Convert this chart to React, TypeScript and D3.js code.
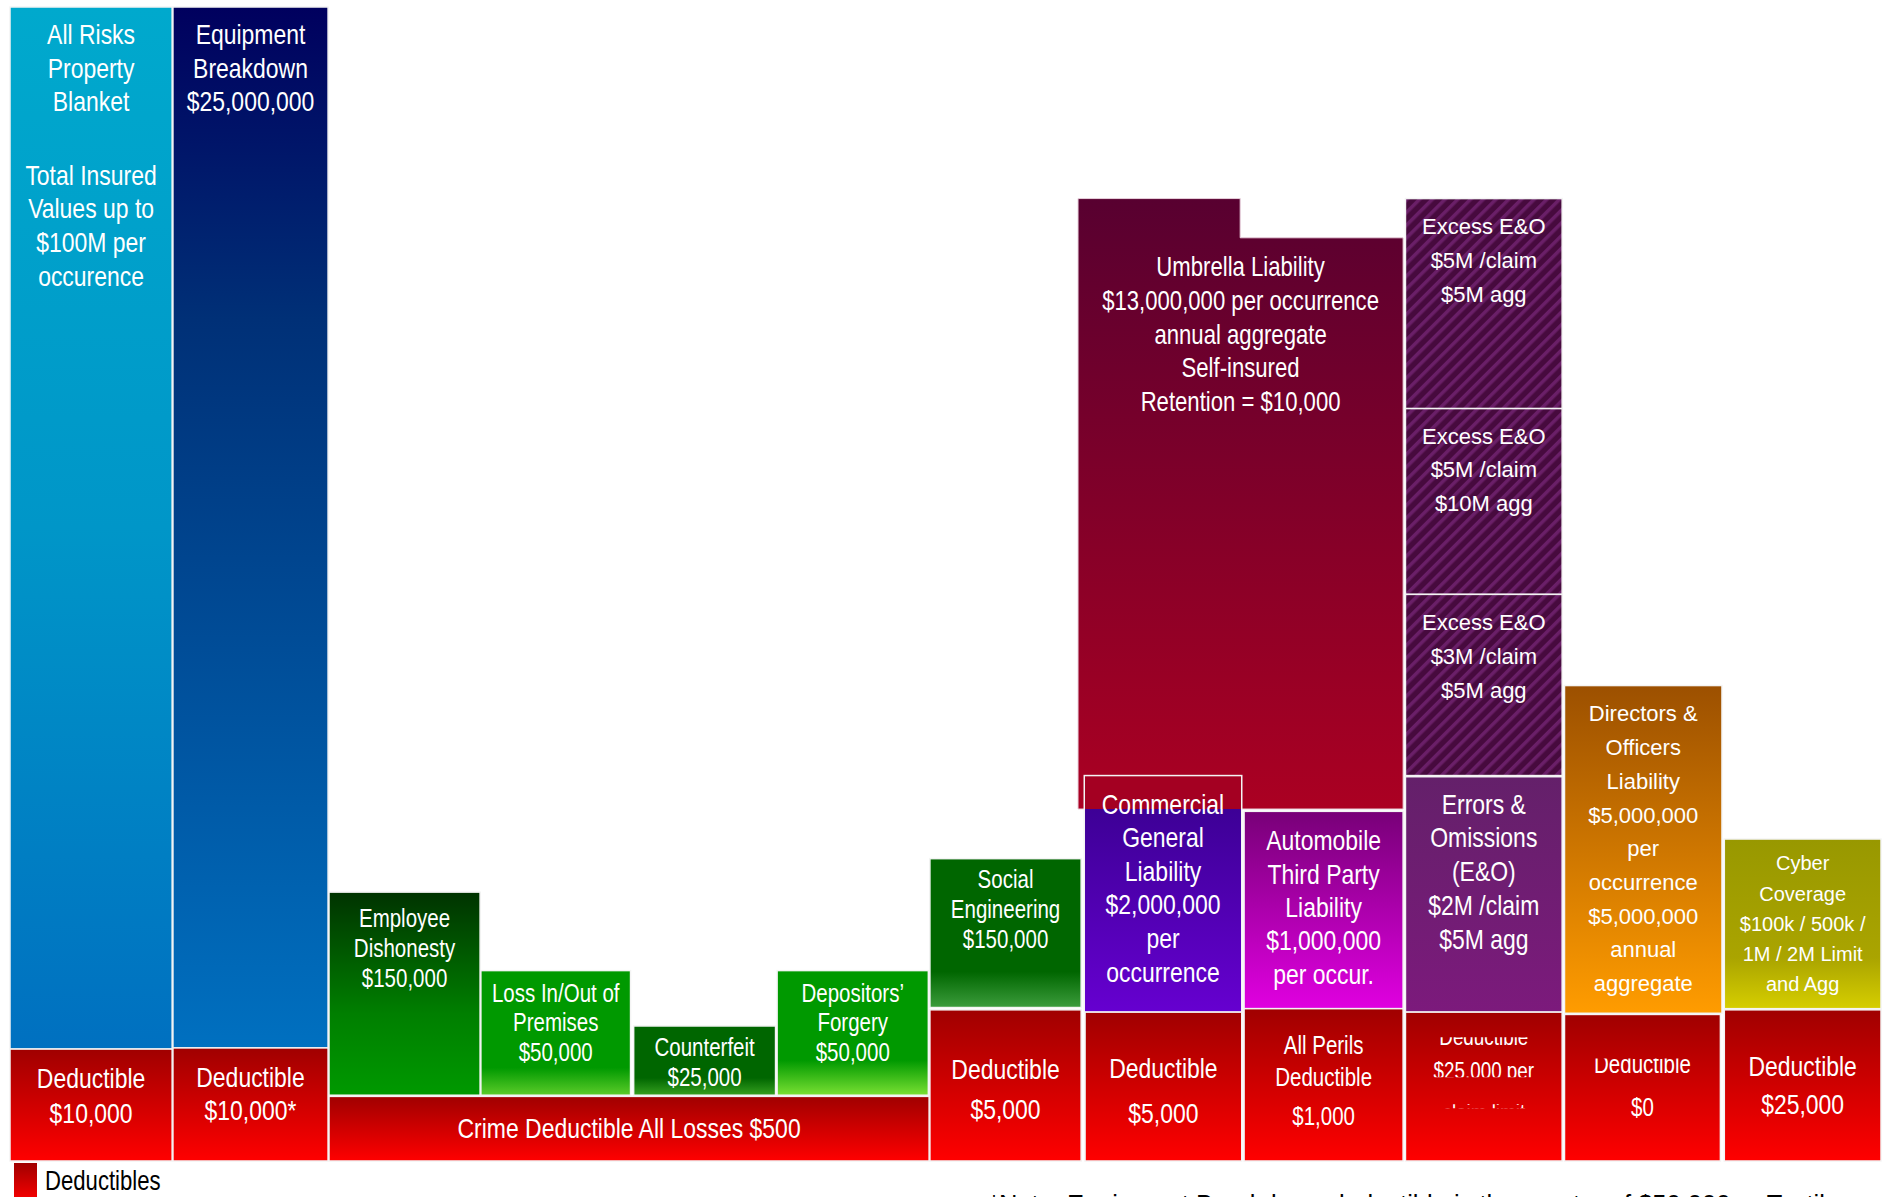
import React from "react";
import * as d3 from "d3";

const W = 1887;
const H = 1197;

// ---------- DATA ----------
// Tower columns (horizontal, 0..12) and tower levels (vertical, 0 = base .. 100 = top)
const coverageIds = [
  "allRisks", "equipment", "employeeDishonesty", "lossInOut", "counterfeit", "forgery",
  "socialEngineering", "cgl", "auto", "xeo1", "xeo2", "xeo3", "eo", "dno", "cyber",
];
const coverageLabels: string[][] = [
  ["All Risks", "Property", "Blanket", "Total Insured", "Values up to", "$100M per", "occurence"],
  ["Equipment", "Breakdown", "$25,000,000"],
  ["Employee", "Dishonesty", "$150,000"],
  ["Loss In/Out of", "Premises", "$50,000"],
  ["Counterfeit", "$25,000"],
  ["Depositors’", "Forgery", "$50,000"],
  ["Social", "Engineering", "$150,000"],
  ["Commercial", "General", "Liability", "$2,000,000", "per", "occurrence"],
  ["Automobile", "Third Party", "Liability", "$1,000,000", "per occur."],
  ["Excess E&O", "$5M /claim", "$5M agg"],
  ["Excess E&O", "$5M /claim", "$10M agg"],
  ["Excess E&O", "$3M /claim", "$5M agg"],
  ["Errors &", "Omissions", "(E&O)", "$2M /claim", "$5M agg"],
  ["Directors &", "Officers", "Liability", "$5,000,000", "per", "occurrence", "$5,000,000", "annual", "aggregate"],
  ["Cyber", "Coverage", "$100k / 500k /", "1M / 2M Limit", "and Agg"],
];
const coverageCol0 = [0, 1.045, 2.046, 3.02, 4.0, 4.92, 5.9, 6.89, 7.915, 8.95, 8.95, 8.95, 8.95, 9.97, 10.995];
const coverageCol1 = [1.04, 2.04, 3.015, 3.98, 4.91, 5.89, 6.87, 7.9, 8.935, 9.955, 9.955, 9.955, 9.955, 10.98, 12.0];
const coverageLow = [9.7, 9.8, 5.7, 5.7, 5.7, 5.7, 13.3, 12.9, 13.2, 65.2, 49.1, 33.4, 12.9, 12.8, 13.2];
const coverageHigh = [100, 100, 23.3, 16.5, 11.7, 16.5, 26.2, 33.4, 30.3, 83.4, 65.2, 49.1, 33.3, 41.2, 27.9];

const umbrellaLabel = ["Umbrella Liability", "$13,000,000 per occurrence", "annual aggregate", "Self-insured", "Retention = $10,000"];
const umbrellaCols = [6.85, 7.89, 8.935];
const umbrellaTops = [83.4, 80.0];
const umbrellaLow = 30.5;

const deductibleIds = ["allRisks", "equipment", "crime", "socialEngineering", "cgl", "auto", "eo", "dno", "cyber"];
const deductibleLabels: string[][] = [
  ["Deductible", "$10,000"],
  ["Deductible", "$10,000*"],
  ["Crime Deductible All Losses $500"],
  ["Deductible", "$5,000"],
  ["Deductible", "$5,000"],
  ["All Perils", "Deductible", "$1,000"],
  ["Deductible", "$25,000 per", "claim limit"],
  ["Deductible", "$0"],
  ["Deductible", "$25,000"],
];
const deductibleCol0 = [0, 1.045, 2.046, 5.9, 6.895, 7.915, 8.95, 9.97, 10.995];
const deductibleCol1 = [1.04, 2.04, 5.895, 6.87, 7.9, 8.935, 9.955, 10.97, 12.0];
const deductibleHigh = [9.7, 9.8, 5.6, 13.1, 12.9, 13.2, 12.9, 12.7, 13.1];

const legendLabel = "Deductibles";
const footnote = "*Note: Equipment Breakdown deductible is the greater of $50,000 or Textile";

// ---------- STYLES ----------
type Stops = [number, string][];
const fills: Record<string, Stops> = {
  allRisks: [[0, "#00a9cd"], [0.5, "#0096c8"], [1, "#0070c0"]],
  equipment: [[0, "#00005e"], [0.3, "#003077"], [1, "#0070c0"]],
  employeeDishonesty: [[0, "#003300"], [0.6, "#007f00"], [1, "#009900"]],
  lossInOut: [[0, "#009900"], [0.78, "#009900"], [1, "#5ccc2a"]],
  counterfeit: [[0, "#006600"], [0.75, "#006600"], [1, "#36a020"]],
  forgery: [[0, "#009900"], [0.72, "#009900"], [1, "#7ae033"]],
  socialEngineering: [[0, "#006600"], [0.76, "#006600"], [1, "#3c9c3c"]],
  cgl: [[0, "#a40022"], [0.142, "#a40022"], [0.142, "#3d0096"], [1, "#6600d0"]],
  auto: [[0, "#780078"], [1, "#e000e0"]],
  eo: [[0, "#64206a"], [1, "#7c1a7c"]],
  dno: [[0, "#9c5000"], [1, "#ff9c00"]],
  cyber: [[0, "#989800"], [0.7, "#aaa400"], [1, "#d6ce00"]],
  umbrella: [[0, "#580030"], [1, "#ab0022"]],
  deductible: [[0, "#a00000"], [1, "#ff0000"]],
};

type LabelStyle = { size: number; narrow: boolean; lh: number; dy: number; ys?: number[] };
const coverageText: Record<string, LabelStyle> = {
  allRisks: { size: 28, narrow: true, lh: 33.7, dy: 27, ys: [27, 60.7, 94.4, 167.5, 201.2, 234.9, 268.6] },
  equipment: { size: 28, narrow: true, lh: 33.7, dy: 27 },
  employeeDishonesty: { size: 25, narrow: true, lh: 30, dy: 26 },
  lossInOut: { size: 25, narrow: true, lh: 29.5, dy: 22 },
  counterfeit: { size: 25, narrow: true, lh: 30, dy: 21 },
  forgery: { size: 25, narrow: true, lh: 29.5, dy: 22 },
  socialEngineering: { size: 25, narrow: true, lh: 30, dy: 20 },
  cgl: { size: 28, narrow: true, lh: 33.6, dy: 28 },
  auto: { size: 28, narrow: true, lh: 33.3, dy: 29 },
  xeo1: { size: 22, narrow: false, lh: 33.7, dy: 28 },
  xeo2: { size: 22, narrow: false, lh: 33.7, dy: 27 },
  xeo3: { size: 22, narrow: false, lh: 33.7, dy: 28 },
  eo: { size: 28, narrow: true, lh: 33.7, dy: 27 },
  dno: { size: 22, narrow: false, lh: 33.7, dy: 28 },
  cyber: { size: 20, narrow: false, lh: 30.3, dy: 24 },
};
const umbrellaText: LabelStyle = { size: 27, narrow: true, lh: 33.7, dy: 68 };
const deductibleText: Record<string, LabelStyle & { clip?: [number, number][] }> = {
  allRisks: { size: 28, narrow: true, lh: 35, dy: 29 },
  equipment: { size: 28, narrow: true, lh: 33, dy: 29 },
  crime: { size: 28, narrow: true, lh: 33, dy: 32 },
  socialEngineering: { size: 28, narrow: true, lh: 40, dy: 59 },
  cgl: { size: 28, narrow: true, lh: 45, dy: 56 },
  auto: { size: 25, narrow: true, lh: 35, dy: 36, ys: [36, 68, 107] },
  eo: { size: 23, narrow: true, lh: 36, dy: 25, ys: [25, 59, 101], clip: [[25, 65], [92, 96]] },
  dno: { size: 25, narrow: true, lh: 43, dy: 50, ys: [50, 93], clip: [[44, 200]] },
  cyber: { size: 28, narrow: true, lh: 38, dy: 56 },
};

const FONT = "'Liberation Sans', Arial, Helvetica, sans-serif";

const x = d3.scaleLinear().domain([0, 12]).range([10, 1881]);
const y = d3.scaleLinear().domain([0, 100]).range([1161, 7]);

function Grad({ id, stops }: { id: string; stops: Stops }) {
  return (
    <linearGradient id={id} x1="0" y1="0" x2="0" y2="1">
      {stops.map(([o, c], i) => (
        <stop key={i} offset={o} stopColor={c} />
      ))}
    </linearGradient>
  );
}

function Lines({ lines, cx, top, st, fill = "#fff", clipId }: { lines: string[]; cx: number; top: number; st: LabelStyle; fill?: string; clipId?: string }) {
  return (
    <g clipPath={clipId ? `url(#${clipId})` : undefined}>
      {lines.map((t, i) => {
        const cy = top + (st.ys ? st.ys[i] : st.dy + i * st.lh);
        const base = cy + st.size * 0.36;
        return (
          <text
            key={i}
            transform={`translate(${cx},${base}) scale(${st.narrow ? 0.82 : 1},1)`}
            textAnchor="middle"
            fontFamily={FONT}
            fontSize={st.size}
            fill={fill}
          >
            {t}
          </text>
        );
      })}
    </g>
  );
}

export default function App() {
  const umbrellaPath = (() => {
    const p = d3.path();
    p.moveTo(x(umbrellaCols[0]), y(umbrellaLow));
    p.lineTo(x(umbrellaCols[0]), y(umbrellaTops[0]));
    p.lineTo(x(umbrellaCols[1]), y(umbrellaTops[0]));
    p.lineTo(x(umbrellaCols[1]), y(umbrellaTops[1]));
    p.lineTo(x(umbrellaCols[2]), y(umbrellaTops[1]));
    p.lineTo(x(umbrellaCols[2]), y(umbrellaLow));
    p.closePath();
    return p.toString();
  })();

  return (
    <svg width={W} height={H} style={{ position: "absolute", left: 0, top: 0, background: "#fff" }}>
      <defs>
        {Object.entries(fills).map(([k, s]) => (
          <Grad key={k} id={`g-${k}`} stops={s} />
        ))}
        <pattern id="xeoPat" width="9" height="9" patternUnits="userSpaceOnUse" patternTransform="rotate(45)">
          <rect width="9" height="9" fill="#470a3e" />
          <rect width="3.5" height="9" fill="#6a1f68" />
        </pattern>
        {deductibleIds.map((id, i) => {
          const st = deductibleText[id];
          if (!st.clip) return null;
          const top = y(deductibleHigh[i]);
          return (
            <clipPath id={`clip-${id}`} key={id}>
              {st.clip.map(([a, b], j) => (
                <rect key={j} x={x(deductibleCol0[i])} width={x(deductibleCol1[i]) - x(deductibleCol0[i])} y={top + a} height={b - a} />
              ))}
            </clipPath>
          );
        })}
      </defs>

      {/* Umbrella layer */}
      <path d={umbrellaPath} fill="url(#g-umbrella)" stroke="#e8d0dc" strokeWidth={1} />

      {/* Coverage layers */}
      {coverageIds.map((id, i) => {
        const fill = id.startsWith("xeo") ? "url(#xeoPat)" : `url(#g-${id})`;
        return (
          <rect
            key={id}
            x={x(coverageCol0[i])}
            y={y(coverageHigh[i])}
            width={x(coverageCol1[i]) - x(coverageCol0[i])}
            height={y(coverageLow[i]) - y(coverageHigh[i])}
            fill={fill}
            stroke="#f4f4f4"
            strokeWidth={1.5}
          />
        );
      })}

      {/* Deductible layers */}
      {deductibleIds.map((id, i) => (
        <rect
          key={id}
          x={x(deductibleCol0[i])}
          y={y(deductibleHigh[i])}
          width={x(deductibleCol1[i]) - x(deductibleCol0[i])}
          height={y(0) - y(deductibleHigh[i])}
          fill="url(#g-deductible)"
          stroke="#f4f4f4"
          strokeWidth={1.5}
        />
      ))}

      {/* Labels */}
      <Lines
        lines={umbrellaLabel}
        cx={(x(umbrellaCols[0]) + x(umbrellaCols[2])) / 2}
        top={y(umbrellaTops[0])}
        st={umbrellaText}
      />
      {coverageIds.map((id, i) => (
        <Lines
          key={id}
          lines={coverageLabels[i]}
          cx={(x(coverageCol0[i]) + x(coverageCol1[i])) / 2}
          top={y(coverageHigh[i])}
          st={coverageText[id]}
        />
      ))}
      {deductibleIds.map((id, i) => (
        <Lines
          key={id}
          lines={deductibleLabels[i]}
          cx={(x(deductibleCol0[i]) + x(deductibleCol1[i])) / 2}
          top={y(deductibleHigh[i])}
          st={deductibleText[id]}
          clipId={deductibleText[id].clip ? `clip-${id}` : undefined}
        />
      ))}

      {/* Legend */}
      <rect x={14} y={1163} width={23} height={40} fill="url(#g-deductible)" />
      <text transform={`translate(45,${1180 + 27 * 0.36}) scale(0.82,1)`} fontFamily={FONT} fontSize={27} fill="#000">
        {legendLabel}
      </text>

      {/* Footnote (cut off by the bottom edge) */}
      <text x={989} y={1213} fontFamily={FONT} fontSize={26} fill="#000" textLength={850} lengthAdjust="spacingAndGlyphs">
        {footnote}
      </text>
    </svg>
  );
}
